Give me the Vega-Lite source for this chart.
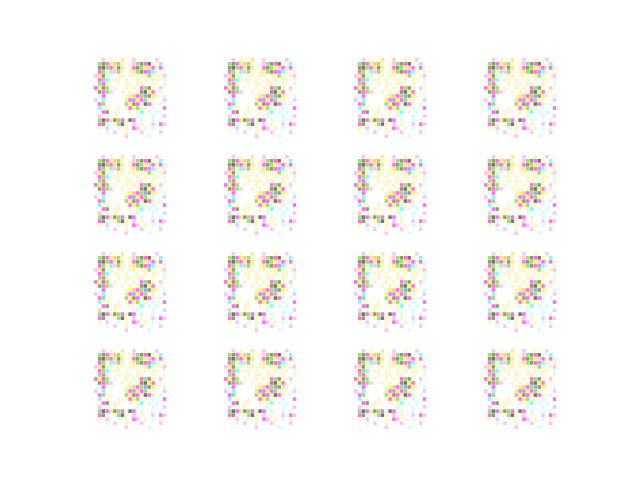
{
"$schema": "https://vega.github.io/schema/vega-lite/v6.json",
"padding": {"left": 94, "top": 58, "right": 0, "bottom": 0},
"background": "white",
"config": {"view": {"stroke": null}},
"spacing": {"row": 16, "column": 54},
"data": {"values": [
{"x":2,"y":0,"k":"P"},{"x":4,"y":0,"k":"y"},{"x":7,"y":0,"k":"Y"},{"x":10,"y":0,"k":"P"},{"x":13,"y":0,"k":"y"},{"x":16,"y":0,"k":"P"},
{"x":1,"y":1,"k":"G"},{"x":2,"y":1,"k":"D"},{"x":3,"y":1,"k":"M"},{"x":4,"y":1,"k":"Y"},{"x":5,"y":1,"k":"O"},{"x":6,"y":1,"k":"G"},{"x":7,"y":1,"k":"y"},{"x":9,"y":1,"k":"y"},{"x":10,"y":1,"k":"P"},{"x":11,"y":1,"k":"G"},{"x":12,"y":1,"k":"D"},{"x":13,"y":1,"k":"M"},{"x":14,"y":1,"k":"K"},{"x":15,"y":1,"k":"y"},{"x":17,"y":1,"k":"C"},
{"x":1,"y":2,"k":"D"},{"x":2,"y":2,"k":"K"},{"x":3,"y":2,"k":"G"},{"x":4,"y":2,"k":"M"},{"x":5,"y":2,"k":"Y"},{"x":6,"y":2,"k":"D"},{"x":7,"y":2,"k":"Y"},{"x":9,"y":2,"k":"y"},{"x":10,"y":2,"k":"M"},{"x":11,"y":2,"k":"D"},{"x":12,"y":2,"k":"G"},{"x":13,"y":2,"k":"Y"},{"x":14,"y":2,"k":"P"},{"x":15,"y":2,"k":"M"},{"x":16,"y":2,"k":"y"},{"x":17,"y":2,"k":"M"},{"x":18,"y":2,"k":"c"},
{"x":1,"y":3,"k":"M"},{"x":2,"y":3,"k":"G"},{"x":3,"y":3,"k":"y"},{"x":4,"y":3,"k":"C"},{"x":5,"y":3,"k":"P"},{"x":6,"y":3,"k":"G"},{"x":7,"y":3,"k":"y"},{"x":9,"y":3,"k":"y"},{"x":10,"y":3,"k":"Y"},{"x":11,"y":3,"k":"G"},{"x":12,"y":3,"k":"D"},{"x":13,"y":3,"k":"M"},{"x":14,"y":3,"k":"B"},{"x":15,"y":3,"k":"C"},{"x":16,"y":3,"k":"y"},{"x":18,"y":3,"k":"y"},
{"x":0,"y":4,"k":"P"},{"x":1,"y":4,"k":"Y"},{"x":2,"y":4,"k":"D"},{"x":3,"y":4,"k":"c"},{"x":4,"y":4,"k":"y"},{"x":6,"y":4,"k":"y"},{"x":7,"y":4,"k":"y"},{"x":9,"y":4,"k":"y"},{"x":10,"y":4,"k":"y"},{"x":12,"y":4,"k":"y"},{"x":13,"y":4,"k":"y"},{"x":14,"y":4,"k":"G"},{"x":15,"y":4,"k":"y"},{"x":17,"y":4,"k":"y"},{"x":18,"y":4,"k":"P"},
{"x":1,"y":5,"k":"M"},{"x":2,"y":5,"k":"G"},{"x":3,"y":5,"k":"C"},{"x":5,"y":5,"k":"y"},{"x":6,"y":5,"k":"y"},{"x":8,"y":5,"k":"y"},{"x":11,"y":5,"k":"y"},{"x":13,"y":5,"k":"y"},{"x":15,"y":5,"k":"y"},{"x":16,"y":5,"k":"y"},{"x":18,"y":5,"k":"c"},
{"x":1,"y":6,"k":"G"},{"x":2,"y":6,"k":"M"},{"x":3,"y":6,"k":"y"},{"x":6,"y":6,"k":"y"},{"x":8,"y":6,"k":"y"},{"x":9,"y":6,"k":"y"},{"x":11,"y":6,"k":"y"},{"x":12,"y":6,"k":"y"},{"x":15,"y":6,"k":"y"},{"x":18,"y":6,"k":"y"},
{"x":0,"y":7,"k":"M"},{"x":1,"y":7,"k":"Y"},{"x":2,"y":7,"k":"D"},{"x":3,"y":7,"k":"G"},{"x":5,"y":7,"k":"y"},{"x":8,"y":7,"k":"y"},{"x":10,"y":7,"k":"y"},{"x":12,"y":7,"k":"M"},{"x":13,"y":7,"k":"G"},{"x":14,"y":7,"k":"D"},{"x":15,"y":7,"k":"y"},{"x":17,"y":7,"k":"P"},
{"x":1,"y":8,"k":"D"},{"x":2,"y":8,"k":"M"},{"x":3,"y":8,"k":"G"},{"x":4,"y":8,"k":"P"},{"x":7,"y":8,"k":"y"},{"x":9,"y":8,"k":"y"},{"x":11,"y":8,"k":"y"},{"x":12,"y":8,"k":"D"},{"x":13,"y":8,"k":"K"},{"x":14,"y":8,"k":"Y"},{"x":15,"y":8,"k":"M"},{"x":17,"y":8,"k":"y"},
{"x":1,"y":9,"k":"c"},{"x":2,"y":9,"k":"M"},{"x":8,"y":9,"k":"y"},{"x":9,"y":9,"k":"Y"},{"x":10,"y":9,"k":"O"},{"x":11,"y":9,"k":"M"},{"x":12,"y":9,"k":"G"},{"x":13,"y":9,"k":"B"},{"x":14,"y":9,"k":"D"},{"x":15,"y":9,"k":"Y"},{"x":16,"y":9,"k":"y"},{"x":18,"y":9,"k":"c"},
{"x":0,"y":10,"k":"P"},{"x":2,"y":10,"k":"C"},{"x":8,"y":10,"k":"Y"},{"x":9,"y":10,"k":"M"},{"x":10,"y":10,"k":"B"},{"x":11,"y":10,"k":"Y"},{"x":12,"y":10,"k":"M"},{"x":13,"y":10,"k":"G"},{"x":14,"y":10,"k":"y"},{"x":15,"y":10,"k":"c"},{"x":18,"y":10,"k":"P"},
{"x":1,"y":11,"k":"M"},{"x":2,"y":11,"k":"G"},{"x":8,"y":11,"k":"G"},{"x":9,"y":11,"k":"Y"},{"x":10,"y":11,"k":"D"},{"x":11,"y":11,"k":"M"},{"x":12,"y":11,"k":"y"},{"x":13,"y":11,"k":"K"},{"x":14,"y":11,"k":"M"},{"x":15,"y":11,"k":"y"},{"x":17,"y":11,"k":"c"},
{"x":1,"y":12,"k":"C"},{"x":3,"y":12,"k":"y"},{"x":6,"y":12,"k":"y"},{"x":8,"y":12,"k":"y"},{"x":9,"y":12,"k":"M"},{"x":10,"y":12,"k":"Y"},{"x":11,"y":12,"k":"G"},{"x":12,"y":12,"k":"c"},{"x":13,"y":12,"k":"y"},{"x":15,"y":12,"k":"c"},{"x":18,"y":12,"k":"M"},
{"x":2,"y":13,"k":"M"},{"x":3,"y":13,"k":"D"},{"x":5,"y":13,"k":"y"},{"x":6,"y":13,"k":"y"},{"x":9,"y":13,"k":"y"},{"x":11,"y":13,"k":"y"},{"x":12,"y":13,"k":"C"},{"x":14,"y":13,"k":"c"},{"x":16,"y":13,"k":"c"},
{"x":1,"y":14,"k":"P"},{"x":3,"y":14,"k":"c"},{"x":5,"y":14,"k":"y"},{"x":11,"y":14,"k":"c"},{"x":15,"y":14,"k":"c"},{"x":18,"y":14,"k":"P"},
{"x":1,"y":15,"k":"G"},{"x":2,"y":15,"k":"K"},{"x":3,"y":15,"k":"M"},{"x":4,"y":15,"k":"Y"},{"x":5,"y":15,"k":"D"},{"x":6,"y":15,"k":"G"},{"x":7,"y":15,"k":"M"},{"x":8,"y":15,"k":"y"},{"x":9,"y":15,"k":"K"},{"x":10,"y":15,"k":"M"},{"x":12,"y":15,"k":"c"},{"x":15,"y":15,"k":"c"},{"x":17,"y":15,"k":"c"},
{"x":1,"y":16,"k":"M"},{"x":2,"y":16,"k":"D"},{"x":3,"y":16,"k":"c"},{"x":5,"y":16,"k":"y"},{"x":6,"y":16,"k":"G"},{"x":7,"y":16,"k":"K"},{"x":8,"y":16,"k":"y"},{"x":10,"y":16,"k":"P"},{"x":12,"y":16,"k":"y"},{"x":15,"y":16,"k":"P"},{"x":17,"y":16,"k":"M"},{"x":18,"y":16,"k":"P"},
{"x":1,"y":17,"k":"y"},{"x":3,"y":17,"k":"P"},{"x":6,"y":17,"k":"c"},{"x":8,"y":17,"k":"y"},{"x":10,"y":17,"k":"M"},{"x":11,"y":17,"k":"P"},{"x":13,"y":17,"k":"y"},{"x":15,"y":17,"k":"c"},{"x":17,"y":17,"k":"y"},
{"x":3,"y":18,"k":"c"},{"x":5,"y":18,"k":"P"},{"x":8,"y":18,"k":"y"},{"x":12,"y":18,"k":"P"},{"x":17,"y":18,"k":"P"},
{"x":8,"y":19,"k":"P"},{"x":14,"y":19,"k":"c"}
]},
"repeat": {"row": ["r1", "r2", "r3", "r4"], "column": ["c1", "c2", "c3", "c4"]},
"spec": {
  "width": 76,
  "height": 80,
  "mark": {"type": "rect", "opacity": 0.75},
  "encoding": {
    "x": {"field": "x", "type": "ordinal", "axis": null, "scale": {"domain": [0,1,2,3,4,5,6,7,8,9,10,11,12,13,14,15,16,17,18,19], "paddingInner": 0.1, "paddingOuter": 0}},
    "y": {"field": "y", "type": "ordinal", "axis": null, "scale": {"domain": [0,1,2,3,4,5,6,7,8,9,10,11,12,13,14,15,16,17,18,19], "paddingInner": 0.1, "paddingOuter": 0}},
    "color": {"field": "k", "type": "nominal", "legend": null, "scale": {"domain": ["M","Y","C","G","D","B","P","y","c","O","K"], "range": ["#ff3fe0","#ffe84a","#5ff5ee","#7fcf5a","#6f7a3a","#7a8ef0","#ffb0f0","#fff3b0","#c8fdfa","#ffb860","#3d4a3a"]}},
    "tooltip": {"field": {"repeat": "row"}}
  }
}
}
